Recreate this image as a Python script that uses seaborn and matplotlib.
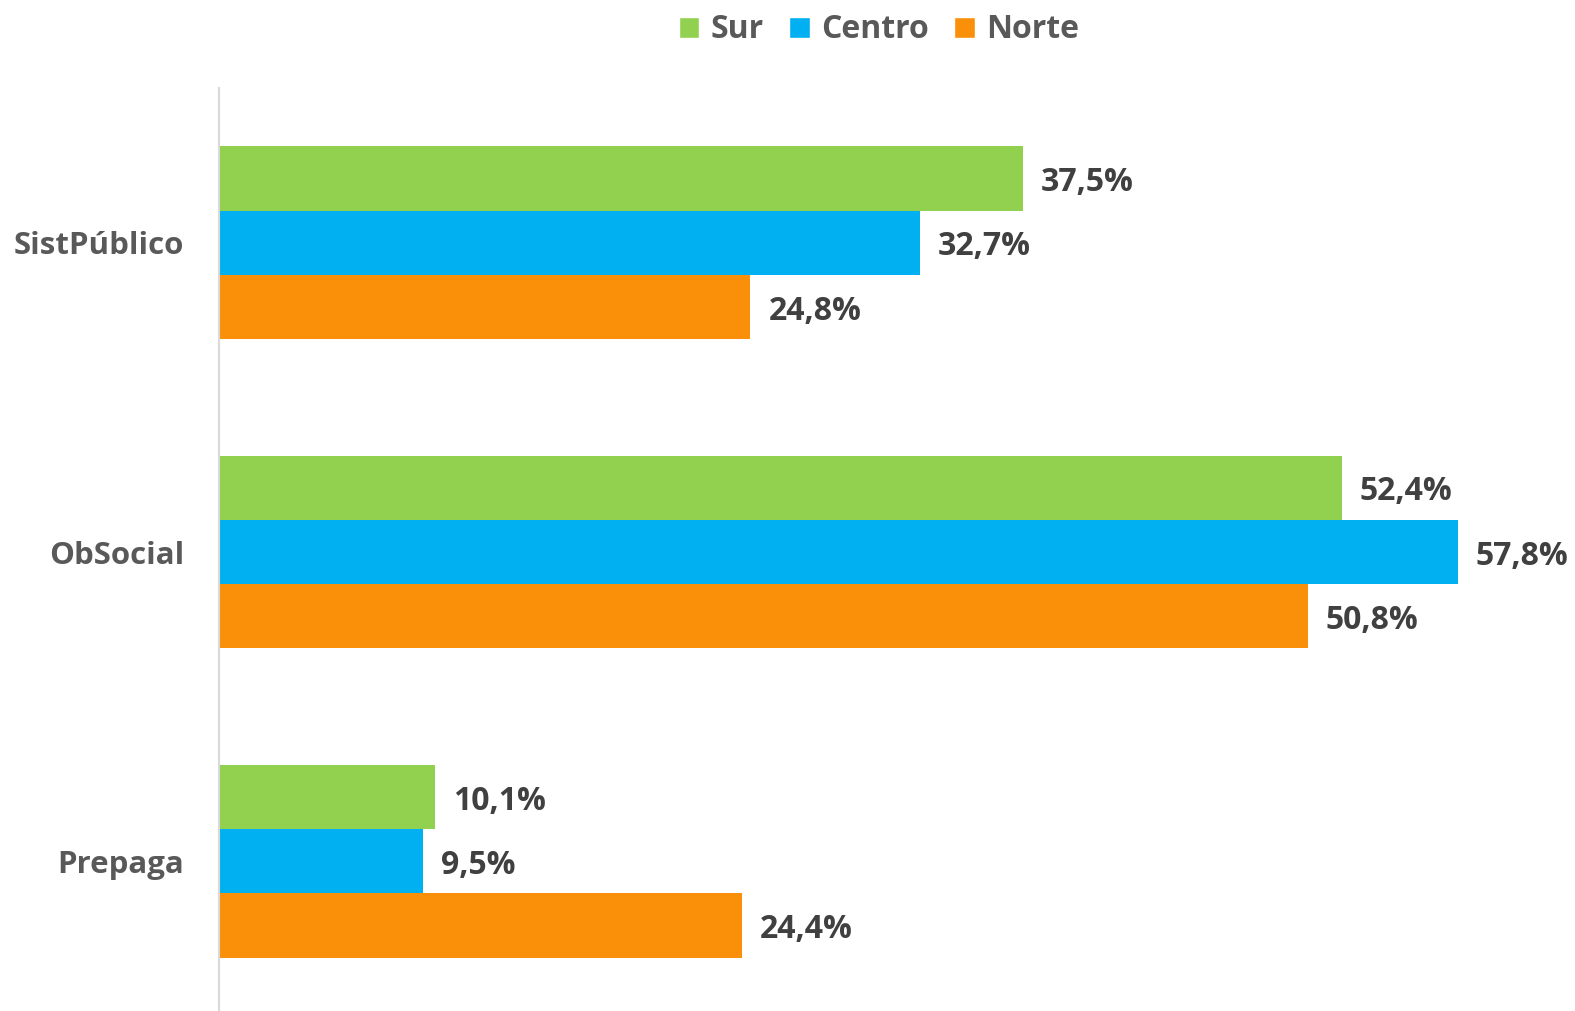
import pandas as pd
import seaborn as sns
import matplotlib.pyplot as plt
from matplotlib.patches import Patch

# Data
categories = ["SistPúblico", "ObSocial", "Prepaga"]
regions = ["Sur", "Centro", "Norte"]
sur = [37.5, 52.4, 10.1]
centro = [32.7, 57.8, 9.5]
norte = [24.8, 50.8, 24.4]
colors = ["#92D050", "#00B0F0", "#FA8F0A"]

df = pd.DataFrame({
    "cat": categories * 3,
    "region": ["Sur"] * 3 + ["Centro"] * 3 + ["Norte"] * 3,
    "value": sur + centro + norte,
})

sns.set_style("white")
plt.rcParams["font.family"] = ["Open Sans", "DejaVu Sans"]

fig = plt.figure(figsize=(15.75, 10.11), dpi=100)
ax = fig.add_axes([219 / 1575, -5 / 1011, 1 - 219 / 1575, 928 / 1011])

sns.barplot(data=df, y="cat", x="value", hue="region", order=categories,
            hue_order=regions, palette=colors, orient="h", width=0.623,
            saturation=1, linewidth=0, ax=ax, legend=False)

ax.set_xlim(0, (1575 - 219) / 21.43)
ax.set_ylim(2.5, -0.5)

# value labels
for cont in ax.containers:
    labels = [f"{v:.1f}".replace(".", ",") + "%" for v in cont.datavalues]
    txts = ax.bar_label(cont, labels=labels, padding=13, fontsize=23, fontweight="bold",
                        color="#404040", clip_on=False)
    for t in txts:
        t.xyann = (t.xyann[0], -3)

ax.set_xlabel("")
ax.set_ylabel("")
ax.set_xticks([])
ax.tick_params(axis="y", length=0, pad=25)
for lbl in ax.get_yticklabels():
    lbl.set_fontsize(22.5)
    lbl.set_fontweight("bold")
    lbl.set_color("#595959")

for s in ["top", "right", "bottom"]:
    ax.spines[s].set_visible(False)
ax.spines["left"].set_color("#D9D9D9")
ax.spines["left"].set_linewidth(1.5)

handles = [Patch(facecolor=c, label=r) for r, c in zip(regions, colors)]
leg = fig.legend(handles=handles, loc="center", bbox_to_anchor=(879 / 1575, 1 - 30 / 1011),
                 ncol=3, frameon=False, fontsize=23, handlelength=0.65, handleheight=0.65,
                 handletextpad=0.35, columnspacing=0.8)
for t in leg.get_texts():
    t.set_color("#595959")
    t.set_fontweight("bold")

fig.savefig("out.png", dpi=100)
